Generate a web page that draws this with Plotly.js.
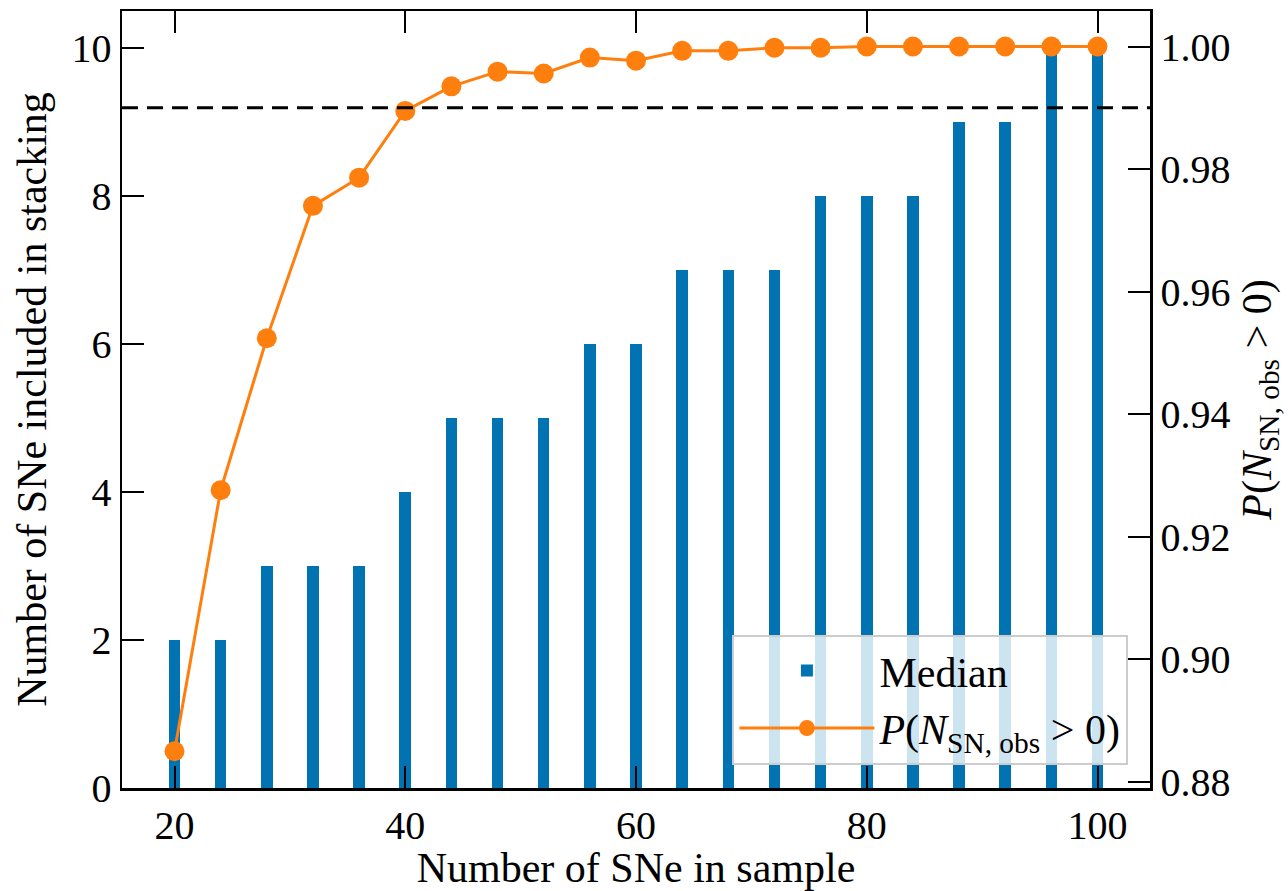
<!DOCTYPE html>
<html>
<head>
<meta charset="utf-8">
<script src="https://cdn.plot.ly/plotly-3.0.1.min.js"></script>
<style>html,body{margin:0;padding:0;background:#fff;}#chart{width:1288px;height:891px;}</style>
</head>
<body>
<div id="chart"></div>
<script>
// ---- data ----
const sampleSizes = [20,24,28,32,36,40,44,48,52,56,60,64,68,72,76,80,84,88,92,96,100];
const medianIncluded = [2,2,3,3,3,4,5,5,5,6,6,7,7,7,8,8,8,9,9,10,10];
const probObs = [0.8850,0.9276,0.9524,0.9740,0.9786,0.9895,0.9935,0.9959,0.9956,0.9982,0.9977,
                 0.9993,0.9993,0.9998,0.9998,1.0,1.0,1.0,1.0,1.0,1.0];
const threshold = 0.99;
const xTitle = "Number of SNe in sample";
const yTitle = "Number of SNe included in stacking";
const y2Title = "<i>P</i>(<i>N</i><sub>SN, obs</sub> &gt; 0)";
const legendMedian = "Median";
const legendProb = "<i>P</i>(<i>N</i><sub>SN, obs</sub> &gt; 0)";

const FONT = "Liberation Serif, Times New Roman, serif";
const BLUE = "#0173b2";
const ORANGE = "#ff7f0e";

const traces = [
  {
    type: "bar", x: sampleSizes, y: medianIncluded, name: legendMedian,
    width: 1, marker: {color: BLUE, line: {width: 0}}, yaxis: "y"
  },
  {
    type: "scatter", mode: "lines+markers", x: sampleSizes, y: probObs, name: legendProb,
    yaxis: "y2", line: {color: ORANGE, width: 3}, marker: {color: ORANGE, size: 20}
  }
];

const axisCommon = {
  showgrid: false, zeroline: false, showline: true, linecolor: "#000", linewidth: 2.5,
  ticks: "inside", ticklen: 22, tickwidth: 2, tickcolor: "#000",
  tickfont: {family: FONT, size: 40, color: "#000"}
};

const layout = {
  width: 1288, height: 891,
  margin: {l: 122, r: 138, t: 11, b: 103},
  paper_bgcolor: "#fff", plot_bgcolor: "#fff",
  font: {family: FONT, color: "#000"},
  bargap: 0,
  xaxis: Object.assign({}, axisCommon, {
    range: [15.45, 104.55], tick0: 0, dtick: 20, mirror: "ticks",
    title: {text: xTitle, font: {family: FONT, size: 42, color: "#000"}, standoff: 0}
  }),
  yaxis: Object.assign({}, axisCommon, {
    range: [0, 10.5], tick0: 0, dtick: 2,
    title: {text: yTitle, font: {family: FONT, size: 42, color: "#000"}, standoff: 12}
  }),
  yaxis2: Object.assign({}, axisCommon, {
    overlaying: "y", side: "right", range: [0.8790, 1.0058], tick0: 0.88, dtick: 0.02,
    tickformat: ".2f",
    title: {text: y2Title, font: {family: FONT, size: 42, color: "#000"}, standoff: 12}
  }),
  shapes: [{
    type: "line", xref: "paper", x0: 0, x1: 1, yref: "y2", y0: threshold, y1: threshold,
    line: {color: "#000", width: 3, dash: "16px,9px"}, layer: "above"
  }],
  legend: {
    x: 0.979, xanchor: "right", y: 0.03, yanchor: "bottom",
    bgcolor: "rgba(255,255,255,0.8)", bordercolor: "#cccccc", borderwidth: 2,
    font: {family: FONT, size: 42, color: "#000"}, itemwidth: 135
  },
  showlegend: true
};

Plotly.newPlot("chart", traces, layout, {displayModeBar: false, staticPlot: true});
</script>
</body>
</html>
